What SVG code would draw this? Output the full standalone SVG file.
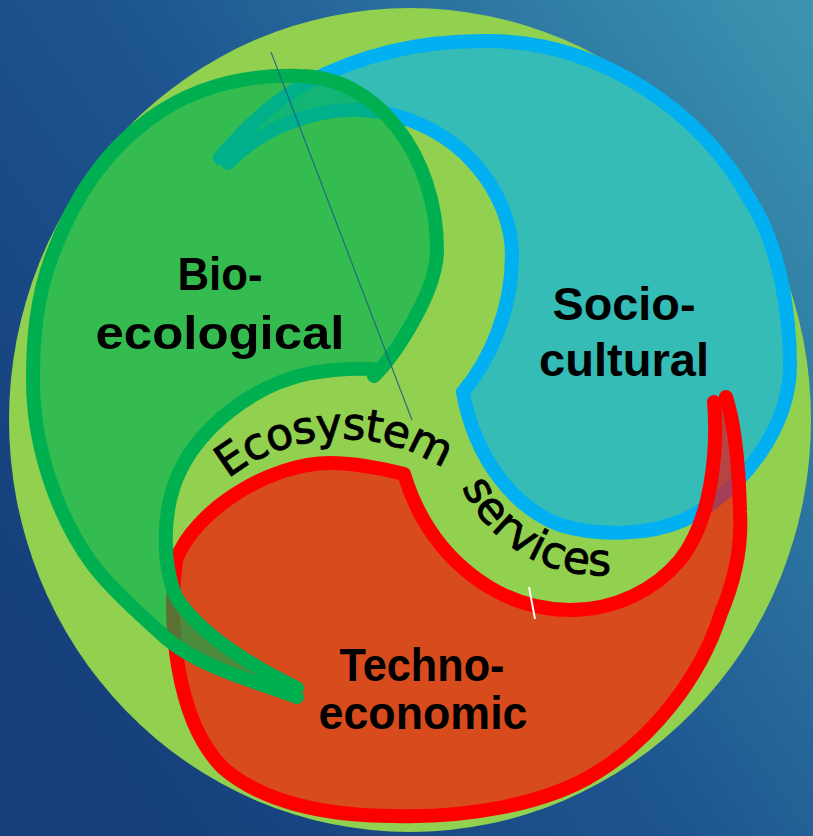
<svg xmlns="http://www.w3.org/2000/svg" width="813" height="836" viewBox="0 0 813 836">
  <defs>
    <linearGradient id="bg" x1="0" y1="0.75" x2="1" y2="0.05">
      <stop offset="0" stop-color="#153e7a"/>
      <stop offset="0.45" stop-color="#1d5590"/>
      <stop offset="1" stop-color="#3b93b0"/>
    </linearGradient>
    <style>
      .stroke { fill: none; stroke-width: 14; stroke-linecap: round; stroke-linejoin: round; }
      .label { font-family: "Liberation Sans", Arial, sans-serif; font-weight: bold; font-size: 47px; fill: #000; text-anchor: middle; }
      .arc { font-family: "DejaVu Sans", "Liberation Sans", sans-serif; font-size: 44px; fill: #000; stroke: #000; stroke-width: 0.9; }
    </style>
    <path id="arcEco" d="M 228 479 A 185 185 0 0 1 480 500"/>
    <path id="arcSrv" d="M 462 487 A 151 151 0 0 0 630 572"/>
  </defs>

  <g id="background">
    <rect x="0" y="0" width="813" height="836" fill="url(#bg)"/>
    <ellipse cx="410" cy="420" rx="401" ry="412" fill="#92d050"/>
  </g>

  <g id="socio-cultural">
    <path fill="#00b0f0" fill-opacity="0.64" d="M 220 158 C 245 128, 275 100, 307 83 C 360 55, 420 40, 490 41 C 600 42, 700 110, 750 200 C 780 246, 790 315, 790 365 C 790 425, 745 490, 684 520 C 650 535, 600 537, 560 525 C 515 508, 475 460, 463 392 C 490 360, 512 310, 512 255 C 512 195, 460 118, 363 110 C 310 108, 260 130, 228 163 Z"/>
    <path class="stroke" stroke="#00b0f0" d="M 220 158 C 245 128, 275 100, 307 83 C 360 55, 420 40, 490 41 C 600 42, 700 110, 750 200 C 780 246, 790 315, 790 365 C 790 425, 745 490, 684 520 C 650 535, 600 537, 560 525 C 515 508, 475 460, 463 392 C 490 360, 512 310, 512 255 C 512 195, 460 118, 363 110 C 310 108, 260 130, 228 163"/>
    <text class="label" x="624" y="320" textLength="143" lengthAdjust="spacingAndGlyphs">Socio-</text>
    <text class="label" x="624" y="376" textLength="170" lengthAdjust="spacingAndGlyphs">cultural</text>
  </g>

  <g id="techno-economic">
    <path fill="#ff0000" fill-opacity="0.64" d="M 714 402 C 718 450, 712 520, 680 560 C 655 590, 615 610, 570 610 C 500 610, 430 560, 404 474 C 380 468, 350 463, 330 463 C 270 463, 195 510, 176 560 C 168 620, 175 720, 223 768 C 260 800, 320 816, 394 816 C 465 818, 545 805, 596 773 C 650 740, 700 680, 721 613 C 735 580, 742 545, 740 512 C 739 470, 735 425, 726 397 Z"/>
    <path class="stroke" stroke="#ff0000" d="M 714 402 C 718 450, 712 520, 680 560 C 655 590, 615 610, 570 610 C 500 610, 430 560, 404 474 C 380 468, 350 463, 330 463 C 270 463, 195 510, 176 560 C 168 620, 175 720, 223 768 C 260 800, 320 816, 394 816 C 465 818, 545 805, 596 773 C 650 740, 700 680, 721 613 C 735 580, 742 545, 740 512 C 739 470, 735 425, 726 397"/>
    <text class="label" x="422" y="681" font-size="45" textLength="165" lengthAdjust="spacingAndGlyphs">Techno-</text>
    <text class="label" x="423" y="729" font-size="45" textLength="209" lengthAdjust="spacingAndGlyphs">economic</text>
  </g>

  <g id="bio-ecological">
    <path fill="#00b050" fill-opacity="0.64" d="M 297 688 C 255 668, 200 635, 176 597 C 163 567, 160 510, 181 469 C 200 430, 250 385, 311 373 C 335 369, 355 368, 372 369 L 374 376 C 395 355, 437 292, 437 250 C 437 154, 375 76, 300 76 C 185 72, 97 134, 52 256 C 36 298, 33 340, 33 380 C 33 450, 60 521, 93 565 C 111 589, 144 618, 166 638 C 200 668, 264 684, 297 697 Z"/>
    <path class="stroke" stroke="#00b050" d="M 297 688 C 255 668, 200 635, 176 597 C 163 567, 160 510, 181 469 C 200 430, 250 385, 311 373 C 335 369, 355 368, 372 369 L 374 376 C 395 355, 437 292, 437 250 C 437 154, 375 76, 300 76 C 185 72, 97 134, 52 256 C 36 298, 33 340, 33 380 C 33 450, 60 521, 93 565 C 111 589, 144 618, 166 638 C 200 668, 264 684, 297 697"/>
    <text class="label" x="220" y="290" textLength="85" lengthAdjust="spacingAndGlyphs">Bio-</text>
    <text class="label" x="220" y="349" textLength="249" lengthAdjust="spacingAndGlyphs">ecological</text>
  </g>

  <g id="ecosystem-services">
    <text class="arc"><textPath href="#arcEco" letter-spacing="-1">Ecosystem</textPath><textPath href="#arcSrv" letter-spacing="0.5">services</textPath></text>
  </g>

  <g id="connectors">
    <line x1="271" y1="52" x2="412" y2="420" stroke="#1f5a8c" stroke-width="1.2" stroke-opacity="0.85"/>
    <line x1="529" y1="587" x2="535" y2="619" stroke="#ffffff" stroke-width="2"/>
  </g>
</svg>
